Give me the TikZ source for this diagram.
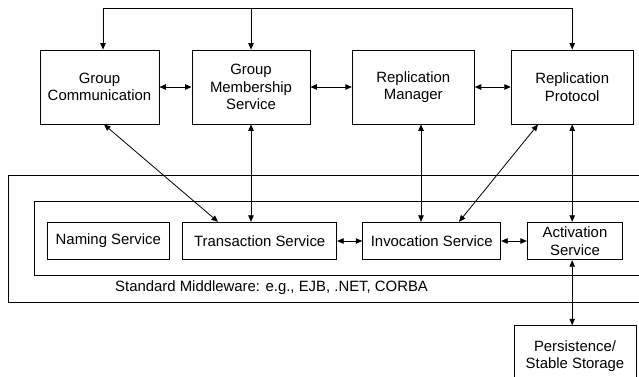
\documentclass[tikz,border=0pt]{standalone}
\usepackage{fontspec}
\setmainfont{Liberation Sans}
\usetikzlibrary{arrows.meta}
\begin{document}
\begin{tikzpicture}[x=1pt,y=-1pt,
  every node/.style={font=\fontsize{14.9}{17.5}\selectfont},
  box/.style={draw,line width=0.9pt,inner sep=0pt,align=center},
  big/.style={box,minimum width=#1,minimum height=74},
  small/.style={box,minimum width=#1,minimum height=37.5},
  line/.style={line width=0.8pt},
  arr/.style={line,-{Triangle[length=6.5pt,width=5.5pt]}},
  barr/.style={line,{Triangle[length=6.5pt,width=5.5pt]}-{Triangle[length=6.5pt,width=5.5pt]}}]
\useasboundingbox (0,0) rectangle (639,376);
\clip (0,0) rectangle (639,376);
\fill[white] (0,0) rectangle (639,376);
% top layer
\node[big=119] (GC) at (99.5,87) {Group\\Communication};
\node[big=118] (GMS) at (251,87) {Group\\Membership\\Service};
\node[big=122] (RM) at (413.3,87) {Replication\\Manager};
\node[big=122] (RP) at (572.2,87) {Replication\\Protocol};
% middleware frames
\draw[line width=0.9pt] (8,175) rectangle (660,302);
\draw[line width=0.9pt] (34,201.7) rectangle (660,275.7);
\node[anchor=west,inner sep=0pt] (SM) at (115,288) {Standard Middleware: e.g., EJB, .NET, CORBA};
% services
\node[small=122] (NS) at (108.3,241) {Naming Service};
\node[small=154] (TS) at (259.7,241) {Transaction Service};
\node[small=138] (IS) at (431.7,241) {Invocation Service};
\node[small=95.4] (AS) at (575,241) {Activation\\Service};
\node[box,minimum width=122,minimum height=61] (PS) at (575,356.2) {Persistence/\\Stable Storage};
% top bus
\coordinate (top) at (0,8);
\draw[line] ([xshift=3.5pt]GC.north |- top) -- (RP.north |- top);
\draw[arr] ([xshift=3.5pt]GC.north |- top) -- ([xshift=3.5pt]GC.north);
\draw[arr] (GMS.north |- top) -- (GMS.north);
\draw[arr] (RP.north |- top) -- (RP.north);
% horizontal links top
\draw[barr] (GC.east) -- (GMS.west);
\draw[barr] (GMS.east) -- (RM.west);
\draw[barr] (RM.east) -- (RP.west);
% vertical/diagonal links
\draw[barr] ([xshift=4.5pt]GC.south) -- ([xshift=-41.7pt]TS.north);
\draw[barr] (GMS.south) -- (GMS.south |- TS.north);
\draw[barr] ([xshift=7.7pt]RM.south) -- ([xshift=7.7pt]RM.south |- IS.north);
\draw[barr] ([xshift=-34.2pt]RP.south) -- ([xshift=27.3pt]IS.north);
\draw[barr] (RP.south) -- (RP.south |- AS.north);
\draw[barr] (RP.south |- AS.south) -- (RP.south |- PS.north);
% horizontal links bottom
\draw[barr] (TS.east) -- (IS.west);
\draw[barr] (IS.east) -- (AS.west);
\end{tikzpicture}
\end{document}
